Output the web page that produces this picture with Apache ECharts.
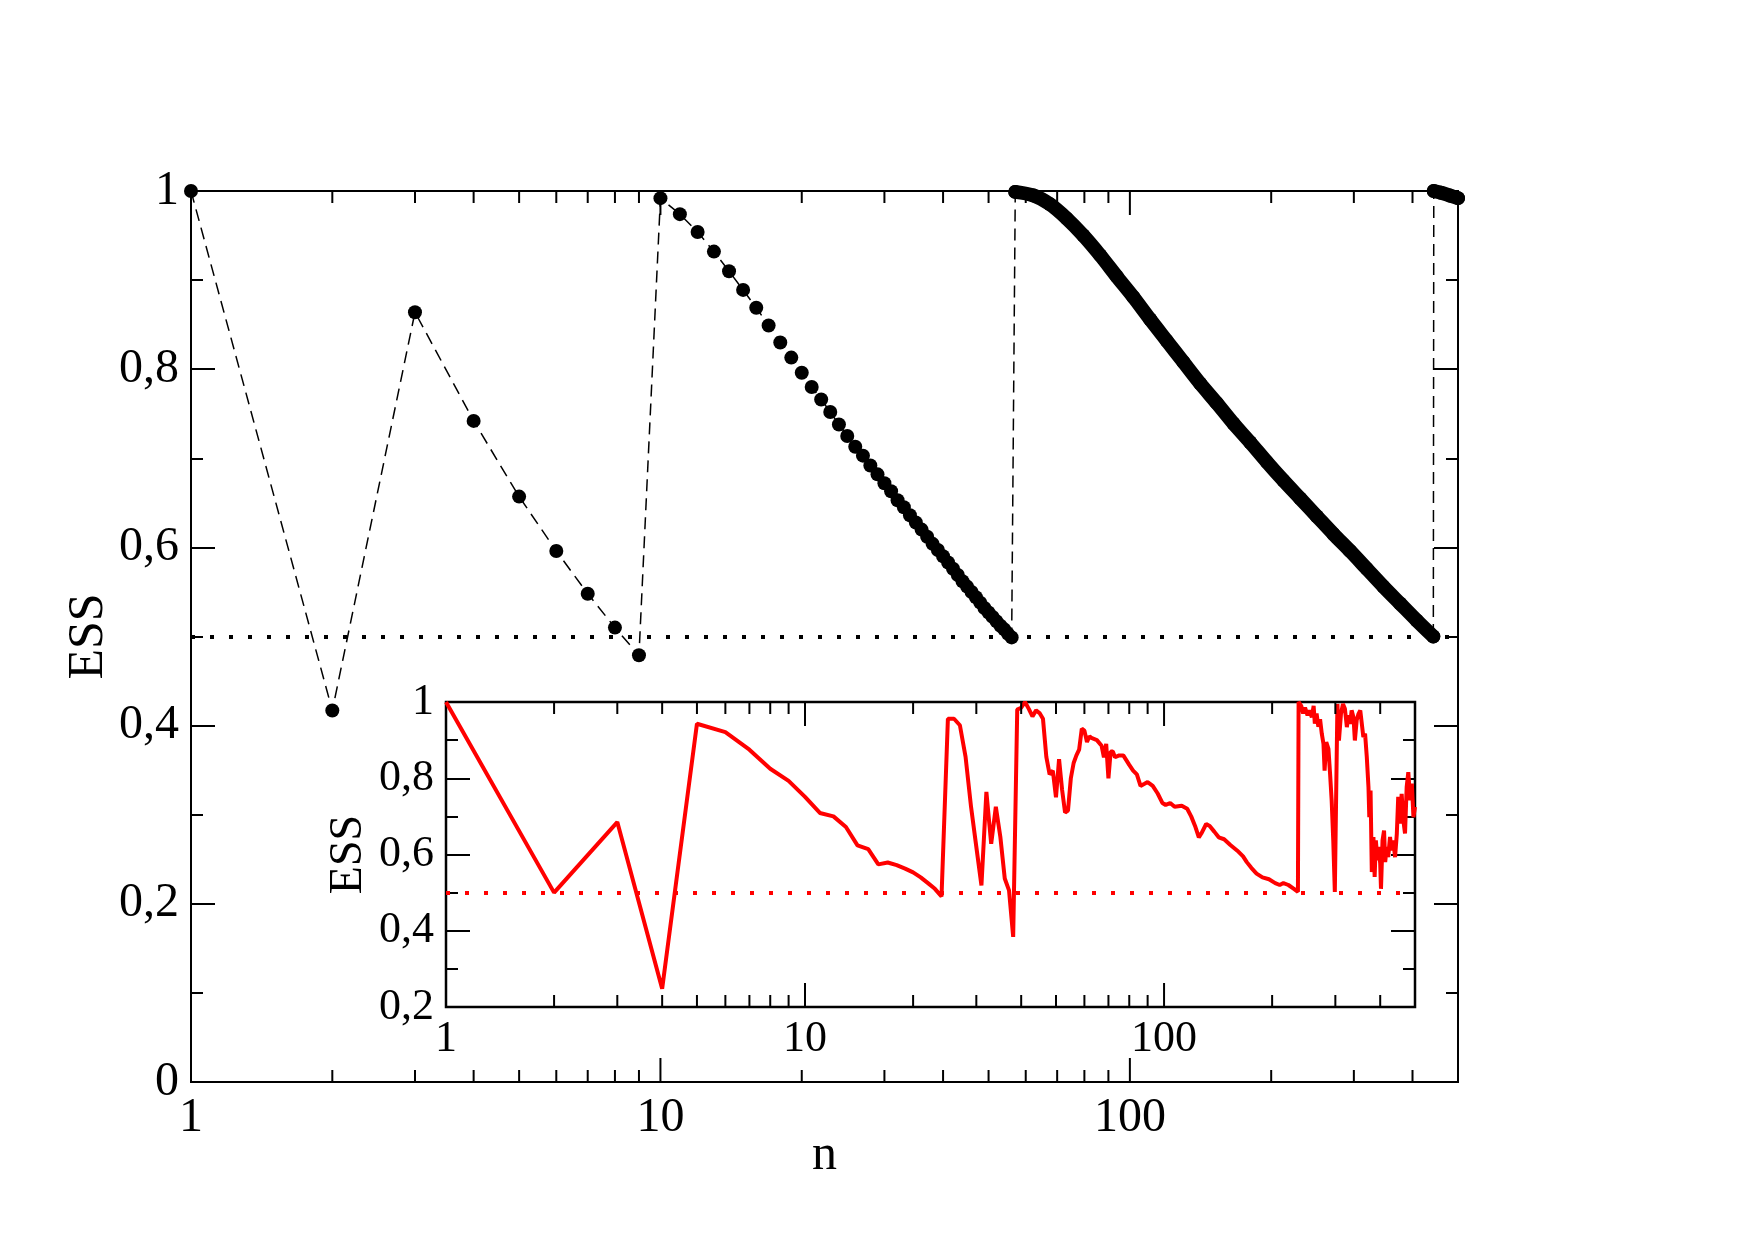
<!DOCTYPE html>
<html>
<head>
<meta charset="utf-8">
<script src="https://cdn.jsdelivr.net/npm/echarts@6/dist/echarts.min.js"></script>
<style>
html,body{margin:0;padding:0;background:#fff;}
#chart{width:1755px;height:1240px;}
</style>
</head>
<body>
<div id="chart"></div>
<script>
// main plot: single dots n = 1..56
var dotN = [1,2,3,4,5,6,7,8,9,10,11,12,13,14,15,16,17,18,19,20,21,22,23,24,25,26,27,28,
	29,30,31,32,33,34,35,36,37,38,39,40,41,42,43,44,45,46,47,48,49,50,51,52,53,54,55,56];
var dotEss = [1.0,0.417,0.864,0.742,0.657,0.596,0.548,0.510,0.479,0.992,0.974,0.954,0.932,0.910,
	0.889,0.869,0.849,0.830,0.813,0.796,0.780,0.766,0.752,0.738,0.725,0.713,0.703,0.692,
	0.682,0.672,0.663,0.653,0.645,0.636,0.628,0.620,0.612,0.604,0.597,0.590,0.583,0.576,
	0.569,0.562,0.556,0.550,0.544,0.538,0.532,0.527,0.522,0.517,0.512,0.508,0.503,0.499];
// dense part (dots merge into a thick band), positions read along the band
var bandN = [57,62.3,67.6,73.4,79.6,86.4,93.8,101.7,110.4,119.8,130,141.1,153.1,166.2,180.3,
	195.7,212.4,230.5,250.1,271.4,294.5,319.6,346.8,376.3,408.4,443];
var bandEss = [0.999,0.995,0.985,0.969,0.950,0.928,0.904,0.881,0.856,0.832,0.808,0.784,0.762,
	0.739,0.718,0.696,0.675,0.655,0.635,0.615,0.596,0.576,0.556,0.537,0.518,0.500];
var tailN = [444,460,480,500];
var tailEss = [1.0,0.998,0.995,0.992];

// inset
var insetN = [1,2,3,4,5,6,7,8,9,10,11,12,13,14,15,16,17,18,19,20,21,22,23,24,25,26,27,28,29,30,
	31,32,33,34,35,36,37,38,39,40,41,42,43,44,45,46,47,48,49,50,51,52,53,54,55,56,57,58,59,60,
	61,62,63,65,67,68,69,70,71,72,73,75,77,80,82,84,86,88,90,93,96,99,101,104,107,112,116,119,
	122,125,127,131,134,138,142,147,153,160,166,170,175,181,188,196,204,210,215,222,230,236,
	237,238,241,244,247,251,254,258,261,263,266,269,272,275,278,280,283,287,290,293,296,299,302,
	304,307,311,315,319,323,326,330,333,337,340,344,348,352,355,359,363,367,371,373,376,379,383,
	386,389,393,396,400,402,406,410,413,417,421,426,430,435,440,445,449,454,459,464,469,474,479,
	485,490,495,500];
var insetEss = [1.0,0.5,0.685,0.248,0.943,0.921,0.875,0.825,0.793,0.751,0.709,0.700,0.672,0.624,
	0.614,0.574,0.579,0.572,0.563,0.553,0.540,0.525,0.510,0.490,0.956,0.956,0.939,0.856,0.725,
	0.620,0.519,0.764,0.628,0.725,0.646,0.537,0.506,0.384,0.980,0.985,1.0,0.982,0.962,0.978,
	0.971,0.956,0.856,0.810,0.820,0.750,0.850,0.770,0.710,0.715,0.800,0.840,0.860,0.875,0.930,
	0.925,0.895,0.910,0.905,0.900,0.885,0.855,0.890,0.800,0.870,0.870,0.855,0.860,0.860,0.835,
	0.820,0.810,0.780,0.785,0.790,0.780,0.760,0.735,0.730,0.735,0.725,0.728,0.720,0.700,0.675,
	0.645,0.655,0.680,0.675,0.660,0.645,0.640,0.625,0.610,0.595,0.580,0.565,0.550,0.540,0.535,
	0.525,0.520,0.525,0.520,0.510,0.502,
	1.0,1.0,0.99,0.97,0.985,0.965,0.978,0.96,0.99,0.943,0.97,0.935,0.955,0.917,0.89,0.82,0.895,
	0.877,0.812,0.742,0.637,0.502,0.502,0.995,0.899,0.969,0.995,0.982,0.934,0.965,0.943,0.978,
	0.96,0.899,0.952,0.969,0.978,0.982,0.908,0.917,0.856,0.777,0.698,0.768,0.554,0.646,0.541,
	0.637,0.585,0.620,0.576,0.51,0.637,0.663,0.58,0.62,0.593,0.646,0.611,0.637,0.593,0.655,
	0.751,0.681,0.759,0.689,0.655,0.777,0.816,0.742,0.786,0.698,0.725];

var majorTicks = [10,100];
var minorTicks = [2,3,4,5,6,7,8,9,20,30,40,50,60,70,80,90,200,300,400];
var threshold = 0.5;

var FONT = 'Liberation Serif';

function pairs(xs, ys){
	var out = [];
	for(var i=0;i<xs.length;i++){ out.push([xs[i], ys[i]]); }
	return out;
}
function commaLabel(v){ return (Math.round(v*10)/10).toString().replace('.', ','); }
function logLabel(v){ return String(Math.round(v)); }

// log axis ticks (2..9, 20..90 ...) drawn on bottom and top edge of a grid
function tickSeries(xIdx, yIdx, yMin, yMax){
	var data = [];
	majorTicks.forEach(function(v){ data.push([v, yMin, 24]); });
	minorTicks.forEach(function(v){ data.push([v, yMin, 12]); });
	return {
		type:'custom', xAxisIndex:xIdx, yAxisIndex:yIdx, silent:true, clip:false, z:5,
		encode:{x:0, y:1},
		data:data,
		renderItem:function(params, api){
			var v = api.value(0), len = api.value(2);
			var b = api.coord([v, yMin]), t = api.coord([v, yMax]);
			var st = {stroke:'#000', lineWidth:2};
			return {type:'group', children:[
				{type:'line', shape:{x1:b[0], y1:b[1], x2:b[0], y2:b[1]-len}, style:st},
				{type:'line', shape:{x1:t[0], y1:t[1], x2:t[0], y2:t[1]+len}, style:st}
			]};
		}
	};
}

function yAxisDef(grid, pos, min, max, fs, showLabel, name, gap){
	return {
		type:'value', gridIndex:grid, position:pos, min:min, max:max, interval:0.2,
		axisLine:{show:false},
		axisTick:{show:true, inside:true, length:24, lineStyle:{color:'#000', width:2}},
		minorTick:{show:true, splitNumber:2, length:12, lineStyle:{color:'#000', width:2}},
		splitLine:{show:false}, minorSplitLine:{show:false},
		axisLabel:{show:showLabel, formatter:commaLabel, fontFamily:FONT, fontSize:fs, color:'#000', margin:12},
		name:name, nameLocation:'middle', nameGap:gap, nameMoveOverlap:false,
		nameTextStyle:{fontFamily:FONT, fontSize:fs+2, color:'#000'}
	};
}
function xAxisDef(grid, fs, name, gap, margin){
	return {
		type:'log', logBase:10, gridIndex:grid, min:1, max:500,
		axisLine:{show:false}, axisTick:{show:false},
		splitLine:{show:false}, minorSplitLine:{show:false},
		axisLabel:{formatter:logLabel, fontFamily:FONT, fontSize:fs, color:'#000', margin:margin, showMaxLabel:false},
		name:name, nameLocation:'middle', nameGap:gap, nameMoveOverlap:false,
		nameTextStyle:{fontFamily:FONT, fontSize:fs+2, color:'#000'}
	};
}

var allN = dotN.concat(bandN, tailN);
var allEss = dotEss.concat(bandEss, tailEss);

var myChart = echarts.init(document.getElementById('chart'));
option = {
	animation:false,
	backgroundColor:'#fff',
	grid:[
		{left:191, top:191, width:1267, height:891, show:true, borderColor:'#000', borderWidth:2, backgroundColor:'transparent'},
		{left:446, top:702, width:969, height:305, show:true, borderColor:'#000', borderWidth:2.5, backgroundColor:'#fff'}
	],
	xAxis:[
		xAxisDef(0, 48, 'n', 49, 12),
		xAxisDef(1, 44, '', 0, 10)
	],
	yAxis:[
		yAxisDef(0, 'left', 0, 1, 48, true, 'ESS', 77),
		yAxisDef(0, 'right', 0, 1, 48, false, '', 0),
		yAxisDef(1, 'left', 0.2, 1, 44, true, 'ESS', 74),
		yAxisDef(1, 'right', 0.2, 1, 44, false, '', 0)
	],
	series:[
		{
			name:'ESS', type:'line', xAxisIndex:0, yAxisIndex:0, clip:false, z:3,
			data:pairs(allN, allEss),
			symbol:'circle', symbolSize:14, itemStyle:{color:'#000'},
			lineStyle:{color:'#000', width:1.5, type:[12,7]},
			markLine:{silent:true, symbol:['none','none'], label:{show:false},
				lineStyle:{color:'#000', width:4, type:[4,15]}, data:[{yAxis:threshold}]}
		},
		{
			name:'band', type:'line', xAxisIndex:0, yAxisIndex:0, clip:false, z:4,
			data:pairs(bandN, bandEss), showSymbol:false, symbol:'none', smooth:0.3,
			lineStyle:{color:'#000', width:14, cap:'round', join:'round'}
		},
		{
			name:'tail', type:'line', xAxisIndex:0, yAxisIndex:0, clip:false, z:4,
			data:pairs(tailN, tailEss), showSymbol:false, symbol:'none', smooth:0.3,
			lineStyle:{color:'#000', width:14, cap:'round', join:'round'}
		},
		{
			name:'inset', type:'line', xAxisIndex:1, yAxisIndex:2, z:3,
			data:pairs(insetN, insetEss), showSymbol:false, symbol:'none',
			lineStyle:{color:'#ff0000', width:4},
			markLine:{silent:true, symbol:['none','none'], label:{show:false},
				lineStyle:{color:'#ff0000', width:4, type:[4,15]}, data:[{yAxis:threshold}]}
		},
		tickSeries(0, 0, 0, 1),
		tickSeries(1, 2, 0.2, 1)
	]
};
myChart.setOption(option);
</script>
</body>
</html>
